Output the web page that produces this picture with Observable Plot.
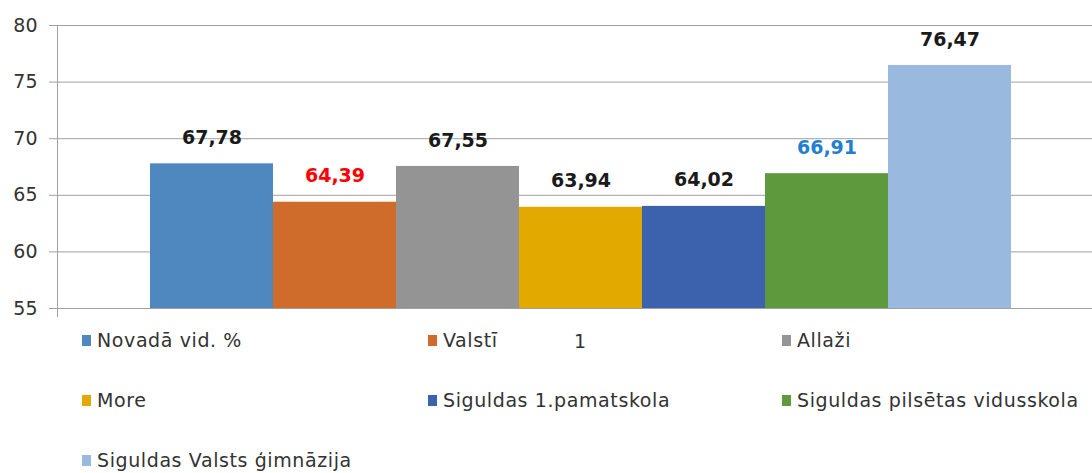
<!DOCTYPE html>
<html>
<head>
<meta charset="utf-8">
<script src="https://cdn.jsdelivr.net/npm/d3@7"></script>
<script src="https://cdn.jsdelivr.net/npm/@observablehq/plot@0.6"></script>
<style>
  html, body { margin: 0; padding: 0; background: #fff; }
  #chart { width: 1092px; }
  .legend {
    position: relative;
    margin-top: -50px;
    display: grid;
    grid-template-columns: 346px 354px auto;
    grid-auto-rows: 60px;
    padding-left: 82px;
    font-family: "DejaVu Sans", sans-serif;
    font-size: 19px;
    letter-spacing: 0.6px;
    color: #333;
  }
  .legend .item { display: flex; align-items: center; white-space: nowrap; }
  .legend .sw { width: 9px; height: 11px; margin-right: 6px; flex: none; }
</style>
</head>
<body>
<div id="chart"></div>
<script>
const categories = ["1"];
const series = [
  "Novadā vid. %",
  "Valstī",
  "Allaži",
  "More",
  "Siguldas 1.pamatskola",
  "Siguldas pilsētas vidusskola",
  "Siguldas Valsts ģimnāzija"
];
const values = [67.78, 64.39, 67.55, 63.94, 64.02, 66.91, 76.47];
const yTicks = [55, 60, 65, 70, 75, 80];
const barColors = ["#4f88bf", "#d06c2b", "#949494", "#e2a900", "#3d62ad", "#5f993d", "#9ab9df"];
const labelColors = ["#1a1a1a", "#ff0000", "#1a1a1a", "#1a1a1a", "#1a1a1a", "#1f80d2", "#1a1a1a"];

const data = series.map((s, i) => ({series: s, value: values[i], category: categories[0], labelColor: labelColors[i]}));
const fmt = v => v.toFixed(2).replace(".", ",");

const labelMarks = [...new Set(labelColors)].map(c =>
  Plot.text(data.filter(d => d.labelColor === c), {
    x: "series", y: "value", text: d => fmt(d.value),
    dy: -26, fontWeight: "bold", fontSize: 19, fill: c
  })
);

const chart = Plot.plot({
  width: 1092,
  height: 360,
  marginLeft: 57,
  marginRight: 0,
  marginTop: 25,
  marginBottom: 52,
  x: {domain: series, range: [149, 1011], padding: 0, axis: null},
  y: {domain: [55, 80], axis: null},
  color: {domain: series, range: barColors},
  style: {fontFamily: "DejaVu Sans, sans-serif", fontSize: "19px", color: "#333", background: "white", overflow: "visible"},
  marks: [
    Plot.gridY(yTicks, {stroke: "#a0a0a0", strokeOpacity: 1}),
    Plot.barY(data, {x: "series", y1: 55, y2: "value", fill: "series"}),
    Plot.axisY(yTicks, {tickSize: 8, tickPadding: 12, stroke: "#a0a0a0", fill: "#333", fontSize: 19, label: null}),
    Plot.frame({anchor: "left", stroke: "#a0a0a0", insetBottom: -8}),
    ...labelMarks,
    Plot.text(categories, {frameAnchor: "bottom", dy: 39, dx: 5, fontSize: 19, fill: "#333"})
  ]
});
document.getElementById("chart").appendChild(chart);

const legend = document.createElement("div");
legend.className = "legend";
series.forEach((s, i) => {
  const item = document.createElement("div");
  item.className = "item";
  const sw = document.createElement("span");
  sw.className = "sw";
  sw.style.background = barColors[i];
  const t = document.createElement("span");
  t.textContent = s;
  item.appendChild(sw);
  item.appendChild(t);
  legend.appendChild(item);
});
document.getElementById("chart").appendChild(legend);
</script>
</body>
</html>
